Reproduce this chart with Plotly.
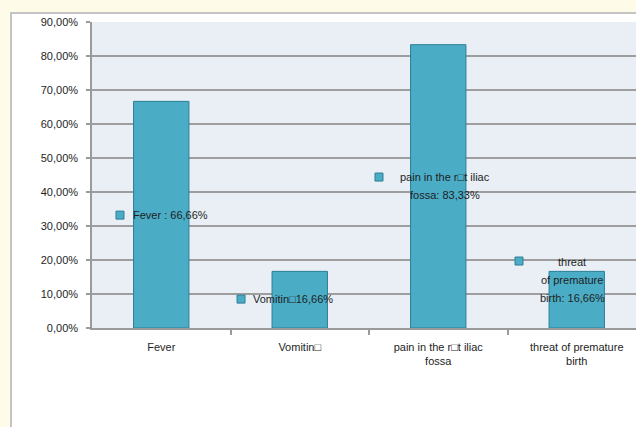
import plotly.graph_objects as go

# Symptom categories and their share of cases (%)
categories = ["Fever", "Vomitin\u25a1", "pain in the r\u25a1t iliac<br>fossa", "threat of premature<br>birth"]
values = [66.66, 16.66, 83.33, 16.66]
label_names = ["Fever : ", "Vomitin\u25a1", "pain in the r\u25a1t iliac<br>fossa: ", "threat<br>of premature<br>birth: "]

# Y axis ticks
y_ticks = [0, 10, 20, 30, 40, 50, 60, 70, 80, 90]
y_ticktext = ["0,00%", "10,00%", "20,00%", "30,00%", "40,00%", "50,00%",
              "60,00%", "70,00%", "80,00%", "90,00%"]

# Where each data label (legend key + text) sits: key x/y, text x / first-line y, alignment
key_pos = [(-0.298, 33.2), (0.576, 8.5), (1.572, 44.4), (2.583, 19.7)]
text_pos = [(-0.218, 33.2, "left"), (0.648, 8.5, "left"), (2.049, 44.4, "center"), (2.966, 19.4, "center")]
LINE_STEP = 5.3  # vertical step between label lines, in axis units (%)

BAR = "#4bacc6"
BAR_EDGE = "#2c7f98"
FONT = "Liberation Sans, Arial, sans-serif"
TXT = "#1e1e1e"


def fmt(v):
    return f"{v:.2f}".replace(".", ",") + "%"


x_idx = list(range(len(categories)))

fig = go.Figure()
fig.add_trace(go.Bar(
    x=x_idx, y=values, width=0.4,
    marker=dict(color=BAR, line=dict(color=BAR_EDGE, width=1)),
    showlegend=False, hoverinfo="skip",
))

# legend-key squares beside each data label
fig.add_trace(go.Scatter(
    x=[p[0] for p in key_pos], y=[p[1] for p in key_pos],
    mode="markers",
    marker=dict(symbol="square", size=8, color=BAR, line=dict(color=BAR_EDGE, width=1)),
    showlegend=False, hoverinfo="skip",
))

# data labels, one annotation per line so the line spacing can be set
annotations = []
for name, v, (tx, ty, align) in zip(label_names, values, text_pos):
    lines = (name + fmt(v)).split("<br>")
    for i, line in enumerate(lines):
        annotations.append(dict(
            x=tx, y=ty - i * LINE_STEP, xref="x", yref="y",
            text=line, showarrow=False,
            xanchor=align, yanchor="middle", align=align,
            font=dict(family=FONT, size=11, color=TXT),
        ))

# pixel -> paper helpers for the frame shapes (plot area: x 92..636, y 22..328)
def px(p):
    return (p - 92) / 544.0


def py(p):
    return (328 - p) / 306.0


shapes = [
    # white chart frame with light grey border
    dict(type="rect", xref="paper", yref="paper",
         x0=px(11), x1=px(700), y0=py(470), y1=py(13),
         fillcolor="white", line=dict(color="#c4c4c4", width=2), layer="below"),
    # plot area background
    dict(type="rect", xref="paper", yref="paper",
         x0=0, x1=1.05, y0=0, y1=1,
         fillcolor="#e9eff5", line=dict(width=0), layer="below"),
]

fig.update_layout(
    width=636, height=427,
    margin=dict(l=92, r=0, t=22, b=99, pad=0),
    paper_bgcolor="#fefbe8",
    plot_bgcolor="rgba(0,0,0,0)",
    shapes=shapes,
    annotations=annotations,
    bargap=0.6,
    font=dict(family=FONT, size=11, color=TXT),
)

fig.update_xaxes(
    range=[-0.5, 3.5 - 10 / 138.5],
    tickmode="array", tickvals=x_idx, ticktext=categories,
    ticks="", showgrid=False, zeroline=False,
    showline=True, linecolor="#9a9a9a", linewidth=1.5,
    ticklabelstandoff=8,
    minor=dict(tickmode="array", tickvals=[0.5, 1.5, 2.5], ticks="outside",
               ticklen=5, tickcolor="#9a9a9a", tickwidth=1.5, showgrid=False),
    tickfont=dict(family=FONT, size=11, color=TXT),
)
fig.update_yaxes(
    range=[0, 90],
    tickmode="array", tickvals=y_ticks, ticktext=y_ticktext,
    ticks="outside", ticklen=4, tickcolor="#9a9a9a", tickwidth=1.5,
    showgrid=True, gridcolor="#9e9e9e", gridwidth=1.6,
    zeroline=False, showline=True, linecolor="#9a9a9a", linewidth=1.5,
    ticklabelstandoff=6,
    tickfont=dict(family=FONT, size=11, color=TXT),
)

fig.write_html("out.html")
